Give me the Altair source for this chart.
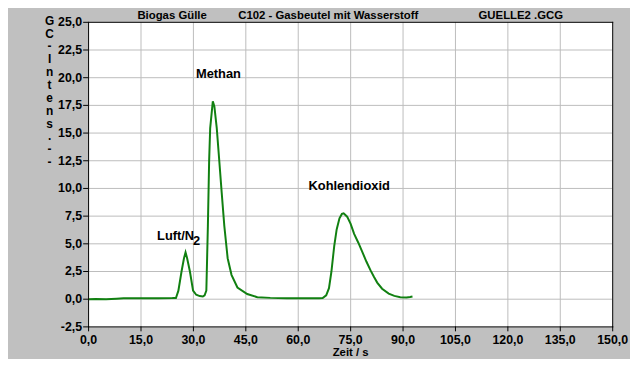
import altair as alt
import pandas as pd

# chromatogram trace (time in s, GC intensity)
t_vals = [0, 2, 5, 8, 10, 15, 20, 24, 25.0, 25.7, 26.6, 27.3, 27.75, 28.2, 29.0, 29.9,
          30.8, 31.8, 32.7, 33.2, 33.7, 34.14, 34.5, 34.8, 35.55, 36.0, 36.68, 37.4,
          38.1, 38.85, 39.8, 40.9, 42.6, 45.4, 48.3, 52, 56.7, 62, 66.0, 67.0, 68.0,
          68.8, 69.5, 70.3, 71.0, 71.8, 72.5, 73.0, 74.0, 75.0, 76.0, 77.2, 78.3, 79.5,
          80.7, 81.7, 82.6, 84.0, 85.9, 87.5, 89.2, 91.0, 92.0, 92.7]
v_vals = [0.0, 0.02, 0.0, 0.05, 0.09, 0.09, 0.09, 0.1, 0.11, 0.77, 2.5, 3.7, 4.23, 3.7,
          2.5, 0.77, 0.4, 0.28, 0.24, 0.35, 0.77, 6.6, 12.5, 15.45, 17.86, 17.4, 15.45,
          12.5, 9.6, 6.6, 3.7, 2.2, 1.06, 0.47, 0.18, 0.12, 0.09, 0.09, 0.09, 0.1, 0.35,
          1.0, 2.5, 4.8, 6.3, 7.3, 7.7, 7.75, 7.45, 6.8, 5.9, 5.1, 4.3, 3.4,
          2.6, 2.0, 1.5, 0.95, 0.5, 0.3, 0.18, 0.15, 0.2, 0.25]

# peak labels
ann_text = ["Methan", "Luft/N", "2", "Kohlendioxid"]
ann_x = [37.16, 24.9, 30.93, 74.58]
ann_y = [20.0, 5.36, 4.85, 9.88]

# header texts
head_text = ["Biogas Gülle", "C102 - Gasbeutel mit Wasserstoff", "GUELLE2 .GCG"]
head_x = [23.9, 68.6, 123.7]
head_y = [25.27, 25.27, 25.27]

x_ticks = [0, 15, 30, 45, 60, 75, 90, 105, 120, 135, 150]
y_ticks = [-2.5, 0, 2.5, 5, 7.5, 10, 12.5, 15, 17.5, 20, 22.5, 25]
x_title = "Zeit / s"
y_title = ["G", "C", "-", "I", "n", "t", "e", "n", "s", ".", " ", "-", " ", "-"]

W, H = 530, 308
FONT = "Liberation Sans"
GRID = "#bcbcbc"


def fmt(v):
    return f"{v:.1f}".replace(".", ",")


trace = pd.DataFrame({"t": t_vals, "v": v_vals})
ann = pd.DataFrame({"t": ann_x, "v": ann_y, "label": ann_text})
head = pd.DataFrame({"t": head_x, "v": head_y, "label": head_text})
xt = pd.DataFrame({"t": x_ticks, "lab": [fmt(v) for v in x_ticks]})
yt = pd.DataFrame({"v": y_ticks, "lab": [fmt(v) for v in y_ticks]})
xg = pd.DataFrame({"t": x_ticks[1:-1]})
yg = pd.DataFrame({"v": y_ticks[1:-1]})
xb = pd.DataFrame({"t": [x_ticks[0], x_ticks[-1]]})
yb = pd.DataFrame({"v": [y_ticks[0], y_ticks[-1]]})

# half-pixel offset in the ranges keeps 1px lines crisp
xs = alt.Scale(domain=[x_ticks[0], x_ticks[-1]], range=[0.5, W + 0.5], nice=False, zero=False)
ys = alt.Scale(domain=[y_ticks[0], y_ticks[-1]], range=[H + 0.5, 0.5], nice=False, zero=False)
X = lambda f: alt.X(f, scale=xs, axis=None)
Y = lambda f: alt.Y(f, scale=ys, axis=None)

grid_x = alt.Chart(xg).mark_rule(stroke=GRID, strokeWidth=1, opacity=1).encode(
    x=X("t:Q"), y=alt.value(0), y2=alt.value(H))
grid_y = alt.Chart(yg).mark_rule(stroke=GRID, strokeWidth=1, opacity=1).encode(
    y=Y("v:Q"), x=alt.value(0), x2=alt.value(W))

border_x = alt.Chart(xb).mark_rule(stroke="black", strokeWidth=1).encode(
    x=X("t:Q"), y=alt.value(0), y2=alt.value(H + 1))
border_y = alt.Chart(yb).mark_rule(stroke="black", strokeWidth=1).encode(
    y=Y("v:Q"), x=alt.value(0), x2=alt.value(W + 1))

tick_x = alt.Chart(xt).mark_rule(stroke="black", strokeWidth=1).encode(
    x=X("t:Q"), y=alt.value(H), y2=alt.value(H + 5))
tick_y = alt.Chart(yt).mark_rule(stroke="black", strokeWidth=1).encode(
    y=Y("v:Q"), x=alt.value(-5), x2=alt.value(0))

lab_x = alt.Chart(xt).mark_text(font=FONT, fontWeight="bold", fontSize=12.5,
                                color="black", baseline="top", align="center").encode(
    x=X("t:Q"), y=alt.value(H + 8), text="lab:N")
lab_y = alt.Chart(yt).mark_text(font=FONT, fontWeight="bold", fontSize=12.5,
                                color="black", baseline="middle", align="right").encode(
    y=Y("v:Q"), x=alt.value(-6), text="lab:N")

line = alt.Chart(trace).mark_line(color="#118011", strokeWidth=2).encode(
    x=X("t:Q"), y=Y("v:Q"))

labels = alt.Chart(ann).mark_text(font=FONT, fontWeight="bold", fontSize=13,
                                  color="black", baseline="alphabetic").encode(
    x=X("t:Q"), y=Y("v:Q"), text="label:N")

header = alt.Chart(head).mark_text(font=FONT, fontWeight="bold", fontSize=11.5,
                                   color="black", baseline="alphabetic").encode(
    x=X("t:Q"), y=Y("v:Q"), text="label:N")

title_x = alt.Chart(pd.DataFrame({"label": [x_title]})).mark_text(
    font=FONT, fontWeight="bold", fontSize=11.5, color="black",
    baseline="alphabetic", align="center").encode(
    x=alt.value(W / 2 + 0.5), y=alt.value(H + 30), text="label:N")

title_y = alt.Chart(pd.DataFrame({"label": ["\n".join(y_title)]})).mark_text(
    font=FONT, fontWeight="bold", fontSize=12, color="black", lineBreak="\n",
    lineHeight=13, baseline="top", align="center").encode(
    x=alt.value(-39), y=alt.value(-6), text="label:N")

chart = alt.layer(grid_x, grid_y, line, border_x, border_y, tick_x, tick_y,
                  lab_x, lab_y, labels, header, title_x, title_y).properties(
    width=W, height=H,
    autosize=alt.AutoSizeParams(type="none"),
    padding={"left": 81, "top": 12, "right": 18, "bottom": 31},
    background="#c0c0c0",
).configure_view(
    fill="white", strokeOpacity=0
)

chart.save("out.html", embed_options={"renderer": "svg", "actions": False})
